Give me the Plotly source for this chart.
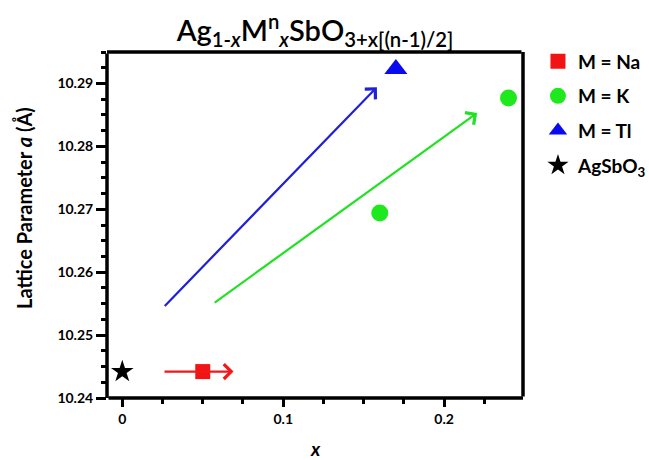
import plotly.graph_objects as go

# Lattice parameter a (Å) versus substitution level x
na_x = [0.05]
na_y = [10.2442]
k_x = [0.16, 0.24]
k_y = [10.2694, 10.2877]
tl_x = [0.17]
tl_y = [10.2923]
ag_x = [0.0]
ag_y = [10.2442]

# Trend arrows (tail -> head) for each substituent
arrow_tail_x = [0.0253, 0.0255, 0.0565]
arrow_tail_y = [10.2442, 10.2544, 10.2550]
arrow_head_x = [0.0691, 0.1582, 0.2205]
arrow_head_y = [10.2442, 10.2894, 10.2853]
arrow_colors = ["#f01818", "#2020d8", "#22e022"]

x_range = [-0.0095, 0.249]
y_range = [10.24, 10.295]

FONT = "Lato"

fig = go.Figure()

fig.add_trace(go.Scatter(
    x=na_x, y=na_y, mode="markers", name="M = Na", legendgroup="na",
    marker=dict(symbol="square", size=15, color="#f21414"),
))
fig.add_trace(go.Scatter(
    x=k_x, y=k_y, mode="markers", name="M = K", legendgroup="k",
    marker=dict(symbol="circle", size=17, color="#1fe81f"),
))
fig.add_trace(go.Scatter(
    x=tl_x, y=tl_y, mode="markers", name="M = Tl", legendgroup="tl",
    marker=dict(symbol="triangle-up", size=20, color="#0a0aee"),
))
fig.add_trace(go.Scatter(
    x=ag_x, y=ag_y, mode="markers", name="AgSbO<sub>3</sub>", legendgroup="ag",
    marker=dict(symbol="star", size=17, color="black"),
))

for tx, ty, hx, hy, c in zip(arrow_tail_x, arrow_tail_y,
                             arrow_head_x, arrow_head_y, arrow_colors):
    fig.add_annotation(
        x=hx, y=hy, ax=tx, ay=ty, xref="x", yref="y", axref="x", ayref="y",
        text="", showarrow=True, arrowhead=4, arrowsize=1.3,
        arrowwidth=2.2, arrowcolor=c,
    )

# heavy box frame: four edge strokes along the axis ranges
x0, x1 = x_range
y0, y1 = y_range
frame_edges = [((x0, y0), (x1, y0)), ((x1, y0), (x1, y1)),
               ((x1, y1), (x0, y1)), ((x0, y1), (x0, y0))]
for (sx, sy), (ex, ey) in frame_edges:
    fig.add_annotation(
        x=ex, y=ey, ax=sx, ay=sy, xref="x", yref="y", axref="x", ayref="y",
        text="", showarrow=True, arrowhead=0, arrowwidth=3.5,
        arrowcolor="black", standoff=0, startstandoff=0,
    )

fig.update_layout(
    width=649, height=460,
    margin=dict(l=107, r=126, t=52, b=62, autoexpand=False),
    paper_bgcolor="white", plot_bgcolor="white",
    font=dict(family=FONT, color="black"),
    title=dict(
        text="Ag<sub>1-<i>x</i></sub>M<sup>n</sup><sub><i>x</i></sub>SbO<sub>3+x[(n-1)/2]</sub>",
        x=0.5, xref="paper", xanchor="center",
        y=1 - 31 / 460, yref="container", yanchor="middle",
        font=dict(family=FONT, size=29, color="black", weight=600),
    ),
    xaxis=dict(
        showline=False, showgrid=False, zeroline=False,
        range=x_range, tickmode="linear", tick0=0, dtick=0.1,
        ticks="outside", ticklen=8, tickwidth=2.5, tickcolor="#000000",
        tickfont=dict(family=FONT, size=14, color="black", weight="bold"),
        minor=dict(dtick=0.025, ticks="outside", ticklen=5, tickwidth=2.5,
                   tickcolor="#000000"),
    ),
    yaxis=dict(
        showline=False, showgrid=False, zeroline=False,
        range=y_range, tickmode="linear", tick0=10.24,
        dtick=0.01, ticks="outside", ticklen=10, tickwidth=2.5,
        tickcolor="#000000", tickformat=".2f",
        tickfont=dict(family=FONT, size=14, color="black", weight="bold"),
        minor=dict(dtick=0.0025, ticks="outside", ticklen=5, tickwidth=2.5,
                   tickcolor="#000000"),
    ),
    legend=dict(
        x=1.036, xanchor="left", y=1.028, yanchor="top",
        font=dict(family=FONT, size=19, color="black", weight="bold"),
        bgcolor="rgba(0,0,0,0)", tracegroupgap=7, itemsizing="trace",
    ),
    showlegend=True,
)

fig.add_annotation(
    text="Lattice Parameter <i>a</i> (Å)", textangle=-90,
    xref="paper", yref="paper", x=(24 - 107) / 416, y=(398 - 208) / 346,
    xanchor="center", yanchor="middle", showarrow=False,
    font=dict(family=FONT, size=20, color="black", weight="bold"),
)
fig.add_annotation(
    text="<i>x</i>",
    xref="paper", yref="paper", x=0.5, y=(398 - 448) / 346,
    xanchor="center", yanchor="middle", showarrow=False,
    font=dict(family=FONT, size=19, color="black", weight="bold"),
)

fig.write_html("out.html")
